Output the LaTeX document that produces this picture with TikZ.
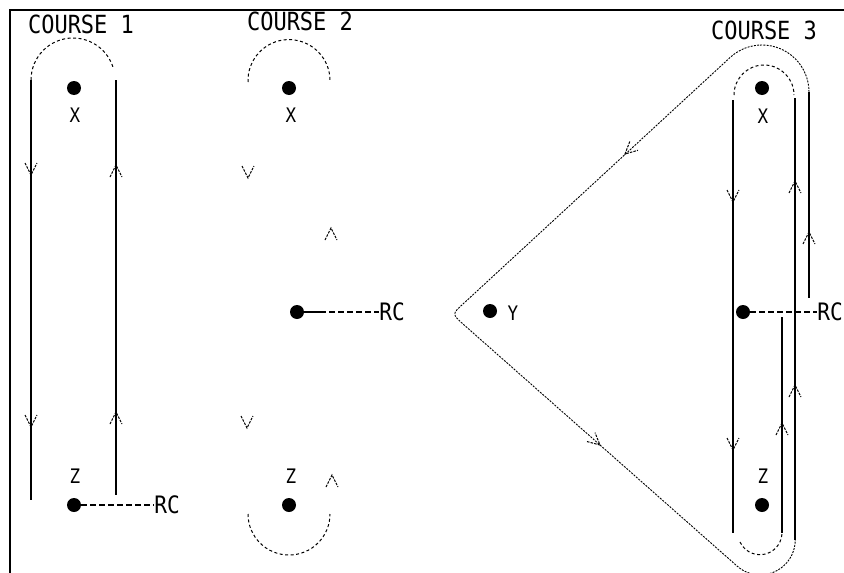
\documentclass[tikz,border=0pt]{standalone}
\usepackage{fontspec}
\newfontfamily\pixfont[FakeStretch=0.88]{DejaVu Sans Mono}
\begin{document}
\begin{tikzpicture}[x=1pt,y=-1pt,
  track/.style={line width=1.3pt},
  dashedarc/.style={line width=1pt, dash pattern=on 3pt off 2.5pt},
  dottedpath/.style={line width=0.9pt, dash pattern=on 2pt off 1.2pt},
  head/.style={line width=1pt, dash pattern=on 2.5pt off 1.2pt},
  dot/.style={circle, fill=black, inner sep=0pt, minimum size=14pt},
  lbl/.style={font=\pixfont\fontsize{20}{20}\selectfont, inner sep=0pt},
  rctext/.style={font=\pixfont\fontsize{24}{24}\selectfont, inner sep=0pt},
  ttl/.style={font=\pixfont\fontsize{25}{25}\selectfont, inner sep=0pt},
  rcline/.style={line width=1.1pt, dash pattern=on 6pt off 3pt},
  dv/.pic={\draw[head] (-6,-12) -- (0,0) -- (6,-12);},
  uv/.pic={\draw[head] (-6,12) -- (0,0) -- (6,12);}
]
\useasboundingbox (0,0) rectangle (844,573);
% frame
\draw[line width=2pt] (10,573) -- (10,10) -- (844,10);

% ---------------- COURSE 1
\node[ttl] (t1) at (81,24) {COURSE 1};
\node[dot] (x1) at (74,88) {};
\node[lbl] (x1l) at (75,115) {X};
\node[dot] (z1) at (74,505) {};
\node[lbl] (z1l) at (75,476) {Z};
\node[rctext] (rc1) at (167,505) {RC};
\draw[rcline] (z1) -- (rc1.west);
\draw[track] (31,80) -- (31,500);
\draw[track] (116,80) -- (116,495);
\draw[dashedarc] (31,80) arc[start angle=180, end angle=344, radius=42];
\pic at (31,175) {dv};
\pic at (31,427) {dv};
\pic at (116,165) {uv};
\pic at (116,412) {uv};

% ---------------- COURSE 2
\node[ttl] (t2) at (300,21) {COURSE 2};
\node[dot] (x2) at (289,88) {};
\node[lbl] (x2l) at (291,115) {X};
\node[dot] (z2) at (289,505) {};
\node[lbl] (z2l) at (291,476) {Z};
\node[dot] (r2) at (297,312) {};
\node[rctext] (rc2) at (392,312) {RC};
\coordinate (r2s) at (320,312);
\draw[line width=1.1pt] (r2) -- (r2s);
\draw[rcline] (r2s) -- (rc2.west);
\draw[dashedarc] (248,82) arc[start angle=178, end angle=362, radius=41];
\draw[dashedarc] (248,514) arc[start angle=180, end angle=0, radius=41];
\pic at (248,178) {dv};
\pic at (247,428) {dv};
\pic at (331,228) {uv};
\pic at (332,475) {uv};

% ---------------- COURSE 3
\node[ttl] (t3) at (764,30) {COURSE 3};
\node[dot] (x3) at (762,88) {};
\node[lbl] (x3l) at (763,116) {X};
\node[dot] (z3) at (762,505) {};
\node[lbl] (z3l) at (763,476) {Z};
\node[dot] (y3) at (490,311) {};
\node[lbl] (y3l) at (513,313) {Y};
\node[dot] (r3) at (743,312) {};
\node[rctext, anchor=east] (rc3) at (843,312) {RC};
\draw[rcline] (r3) -- (rc3.west);
% vertical tracks
\draw[track] (733,100) -- (733,533);
\draw[track] (795,98) -- (795,540);
\draw[track] (809,92) -- (809,298);
\draw[track] (782,317) -- (782,533);
% inner arcs
\draw[dashedarc] (734,95) arc[start angle=180, end angle=360, radius=30];
\draw[dashedarc] (740,542) arc[start angle=155, end angle=0, radius=22];
% outer loop
\draw[dottedpath] (809,92) arc[start angle=0, end angle=-132.5, radius=47]
  -- (463,304) .. controls (452,314) .. (463,324)
  -- (737,566) arc[start angle=131.6, end angle=0, radius=35];
\pic at (733,202) {dv};
\pic at (733,450) {dv};
\pic at (795,181) {uv};
\pic at (809,232) {uv};
\pic at (795,385) {uv};
\pic at (782,423) {uv};
\pic[rotate=-47.5] at (625,154) {dv};
\pic[rotate=48.6] at (600,445) {dv};
\end{tikzpicture}
\end{document}
